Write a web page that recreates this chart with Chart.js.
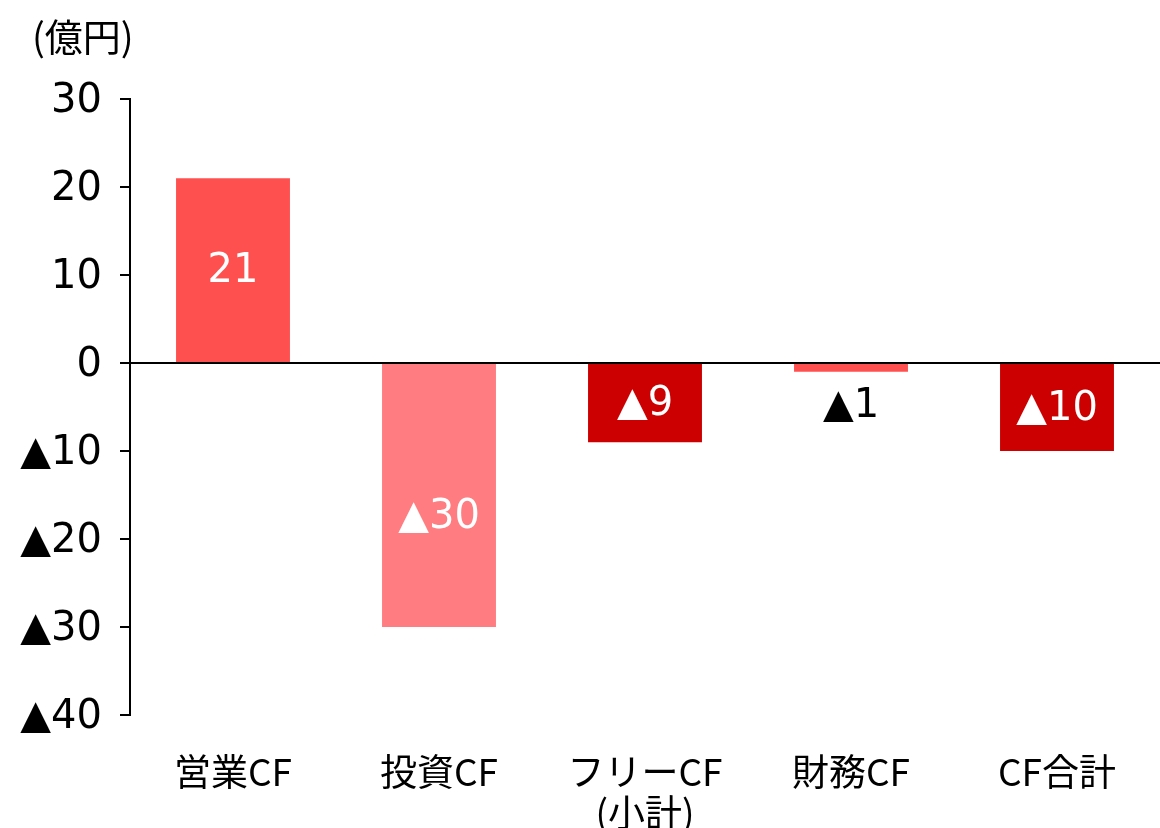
<!DOCTYPE html>
<html>
<head>
<meta charset="utf-8">
<script src="https://cdn.jsdelivr.net/npm/chart.js@4/dist/chart.umd.min.js"></script>
<style>
  html, body { margin: 0; padding: 0; background: #fff; }
  #wrap { width: 1160px; height: 828px; }
</style>
</head>
<body>
<div id="wrap"><canvas id="myChart" width="1160" height="828"></canvas></div>
<script>
// データ
var categories = ['営業CF', '投資CF', ['フリーCF', '(小計)'], '財務CF', 'CF合計'];
var values = [21, -30, -9, -1, -10];
var barColors = ['#FF5050', '#FF7C80', '#CC0000', '#FF5050', '#CC0000'];
var labelColors = ['#fff', '#fff', '#fff', '#000', '#fff'];
var unitLabel = '(億円)';

var FONT = '"Noto Sans CJK JP", "Noto Sans", sans-serif';
var NUMFONT = '"DejaVu Sans", "Noto Sans CJK JP", sans-serif';

function fmt(v) {
    return v < 0 ? '▲' + Math.abs(v) : String(v);
}

// 0の線と単位、値ラベル
var extras = {
    id: 'extras',
    afterDatasetsDraw: function (chart) {
        var c = chart.ctx;
        var y = chart.scales.y;
        var y0 = y.getPixelForValue(0);
        c.save();
        c.strokeStyle = '#000';
        c.lineWidth = 2;
        c.beginPath();
        c.moveTo(chart.chartArea.left, y0);
        c.lineTo(chart.chartArea.right, y0);
        c.stroke();

        c.font = '38px ' + FONT;
        c.fillStyle = '#000';
        c.textAlign = 'left';
        c.textBaseline = 'middle';
        c.fillText(unitLabel, 32, 37);

        c.font = '40px ' + NUMFONT;
        c.textAlign = 'center';
        var meta = chart.getDatasetMeta(0);
        meta.data.forEach(function (bar, i) {
            var v = values[i];
            var ty;
            if (Math.abs(v) < 3) {
                ty = y.getPixelForValue(v) + 35; // 小さい棒は下に出す
            } else if (v <= -20) {
                ty = (bar.y + bar.base) / 2 + 22; // 長い棒は少し下寄せ
            } else {
                ty = (bar.y + bar.base) / 2 + 2;
            }
            c.fillStyle = labelColors[i];
            c.fillText(fmt(v), bar.x, ty);
        });
        c.restore();
    }
};

var ctx = document.getElementById('myChart').getContext('2d');
var myChart = new Chart(ctx, {
    type: 'bar',
    data: {
        labels: categories,
        datasets: [{
            data: values,
            backgroundColor: barColors,
            borderWidth: 0,
            barPercentage: 0.553,
            categoryPercentage: 1
        }]
    },
    options: {
        responsive: false,
        animation: false,
        layout: { padding: { top: 99, right: 0, left: 0, bottom: 0 } },
        plugins: {
            legend: { display: false },
            tooltip: { enabled: false }
        },
        scales: {
            x: {
                grid: { display: false },
                border: { display: false },
                ticks: {
                    color: '#000',
                    font: { family: FONT, size: 37, lineHeight: 1.12 },
                    padding: 28,
                    maxRotation: 0,
                    autoSkip: false
                },
                afterFit: function (s) { s.height = 113; }
            },
            y: {
                min: -40,
                max: 30,
                grid: {
                    drawOnChartArea: false,
                    drawTicks: true,
                    tickLength: 10,
                    color: '#000',
                    lineWidth: 2
                },
                border: { display: true, color: '#000', width: 2 },
                ticks: {
                    stepSize: 10,
                    color: '#000',
                    padding: 18,
                    labelOffset: 3,
                    font: { family: NUMFONT, size: 40 },
                    callback: function (v) { return fmt(v); }
                },
                afterFit: function (s) { s.width = 130; }
            }
        }
    },
    plugins: [extras]
});
</script>
</body>
</html>
